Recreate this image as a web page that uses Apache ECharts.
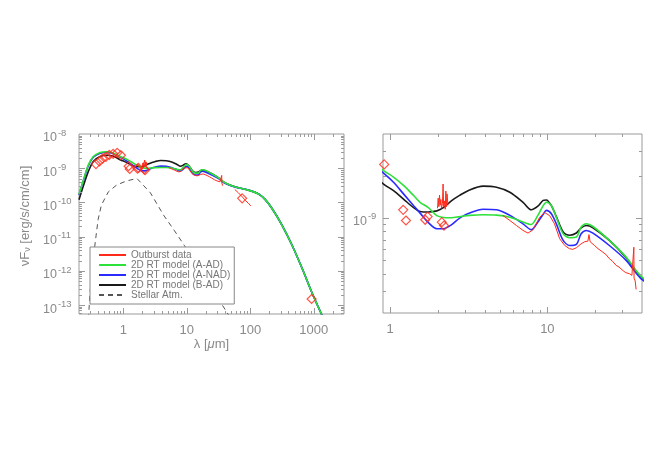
<!DOCTYPE html>
<html>
<head>
<meta charset="utf-8">
<script src="https://cdn.jsdelivr.net/npm/echarts@6/dist/echarts.min.js"></script>
<style>
html, body { margin: 0; padding: 0; background: #fff; }
#sed { width: 661px; height: 449px; }
</style>
</head>
<body>
<div id="sed"></div>
<script>
// wavelength grid of the RT models [micron]
const lamModel = [0.2, 0.234, 0.28, 0.336, 0.43, 0.55, 0.70, 0.907, 1.05, 1.215, 1.41, 1.55, 1.75, 1.98, 2.18, 2.45,
  2.78, 3.2, 3.9, 4.75, 5.77, 7.0, 7.9, 8.7, 9.4, 9.86, 10.6, 11.4, 12.6, 13.9, 15.3, 16.4, 17.7, 19.5, 24.8,
  31.7, 39.5, 57, 93, 134, 171, 219, 316, 456, 658, 950, 1322, 1400]
// nuFnu [erg/s/cm/cm]
const modelAAD = [1.74e-10, 4.47e-10, 1.23e-9, 2.19e-9, 2.88e-9, 3.02e-9, 2.75e-9, 2.17e-9, 1.95e-9, 1.70e-9, 1.44e-9,
  1.29e-9, 1.18e-9, 1.035e-9, 1.005e-9, 1.0e-9, 1.02e-9, 1.04e-9, 1.05e-9, 1.045e-9, 1.01e-9, 9.33e-10, 8.97e-10,
  1.04e-9, 1.22e-9, 1.29e-9, 1.22e-9, 1.01e-9, 7.69e-10, 7.21e-10, 7.29e-10, 8.59e-10, 9.06e-10, 8.67e-10, 6.90e-10,
  5.25e-10, 3.83e-10, 2.88e-10, 2.29e-10, 1.78e-10, 1.23e-10, 6.76e-11, 2.19e-11, 5.62e-12, 1.17e-12, 2.19e-13,
  5.50e-14, 4.37e-14]
const modelANAD = [1.66e-10, 4.27e-10, 1.17e-9, 2.09e-9, 2.75e-9, 2.88e-9, 2.63e-9, 2.08e-9, 1.79e-9, 1.48e-9, 1.22e-9,
  1.08e-9, 9.23e-10, 8.36e-10, 8.36e-10, 8.91e-10, 1.0e-9, 1.08e-9, 1.15e-9, 1.14e-9, 1.04e-9, 9.06e-10, 8.22e-10,
  9.33e-10, 1.06e-9, 1.13e-9, 1.07e-9, 9.06e-10, 6.90e-10, 6.35e-10, 6.46e-10, 7.69e-10, 8.13e-10, 7.78e-10, 6.35e-10,
  4.98e-10, 3.68e-10, 2.85e-10, 2.32e-10, 1.80e-10, 1.23e-10, 6.76e-11, 2.19e-11, 5.62e-12, 1.17e-12, 2.19e-13,
  5.50e-14, 4.37e-14]
const modelBAD = [1.20e-10, 3.02e-10, 7.94e-10, 1.58e-9, 2.19e-9, 2.40e-9, 2.24e-9, 1.74e-9, 1.56e-9, 1.36e-9, 1.18e-9,
  1.11e-9, 1.10e-9, 1.12e-9, 1.18e-9, 1.32e-9, 1.45e-9, 1.58e-9, 1.68e-9, 1.65e-9, 1.52e-9, 1.29e-9, 1.14e-9,
  1.21e-9, 1.33e-9, 1.34e-9, 1.22e-9, 1.02e-9, 7.94e-10, 7.52e-10, 7.80e-10, 8.47e-10, 8.81e-10, 8.49e-10, 6.90e-10,
  5.20e-10, 3.78e-10, 2.88e-10, 2.29e-10, 1.78e-10, 1.23e-10, 6.76e-11, 2.19e-11, 5.62e-12, 1.17e-12, 2.19e-13,
  5.50e-14, 4.37e-14]

// stellar atmosphere
const lamStar = [0.283, 0.29, 0.30, 0.32, 0.353, 0.40, 0.45, 0.58, 0.785, 1.13, 1.64, 2.67, 4.3, 6.3, 9.1, 43.5, 50]
const fStar = [3.98e-14, 1.0e-13, 2.51e-13, 1.0e-12, 5.01e-12, 3.16e-11, 8.32e-11, 2.04e-10, 3.24e-10, 4.27e-10,
  5.01e-10, 1.91e-10, 4.27e-11, 1.55e-11, 5.62e-12, 5.89e-14, 3.89e-14]

// outburst spectra (three pieces)
const lamSpecK = [2.00, 2.02, 2.04, 2.06, 2.08, 2.10, 2.12, 2.15, 2.17, 2.19, 2.21, 2.24, 2.26, 2.28, 2.30, 2.33]
const fSpecK = [1.17e-9, 1.38e-9, 1.20e-9, 1.45e-9, 1.23e-9, 1.35e-9, 1.17e-9, 1.26e-9, 1.74e-9, 1.20e-9, 1.32e-9,
  1.15e-9, 1.55e-9, 1.20e-9, 1.48e-9, 1.23e-9]
const lamSpecIR = [5.2, 5.77, 6.36, 7.0, 7.53, 8.1, 8.94, 9.6, 10.35, 11.1, 11.97, 12.9, 13.8, 14.5, 15.3, 16.4, 17.3,
  18.1, 18.4, 18.7, 19.95, 21.0, 22.5, 23.5, 24.8, 26.0, 27.4, 28.5, 30.2, 31.5, 33.3, 34.5, 35.4, 35.5, 35.6, 36.2, 36.7]
const fSpecIR = [1.04e-9, 9.57e-10, 8.81e-10, 8.13e-10, 7.78e-10, 8.22e-10, 1.01e-9, 1.09e-9, 1.035e-9, 9.06e-10,
  7.10e-10, 6.35e-10, 6.03e-10, 5.96e-10, 6.12e-10, 6.53e-10, 6.76e-10, 6.82e-10, 7.59e-10, 6.76e-10, 6.35e-10,
  6.03e-10, 5.70e-10, 5.50e-10, 5.12e-10, 4.90e-10, 4.58e-10, 4.47e-10, 4.22e-10, 4.07e-10, 4.00e-10, 3.89e-10,
  3.80e-10, 6.17e-10, 3.72e-10, 3.55e-10, 3.09e-10]
const lamSpecFIR = [57, 65, 75, 85, 95, 102]
const fSpecFIR = [2.40e-10, 1.91e-10, 1.45e-10, 1.12e-10, 9.12e-11, 7.94e-11]

// photometry
const lamPhot = [0.37, 0.42, 0.47, 0.53, 0.60, 0.69, 0.80, 0.916, 1.21, 1.26, 1.67, 1.73, 2.13, 2.20, 74.5, 926]
const fPhot = [1.32e-9, 1.58e-9, 1.91e-9, 2.14e-9, 2.45e-9, 2.63e-9, 2.82e-9, 2.40e-9, 1.14e-9, 9.57e-10, 9.68e-10,
  1.02e-9, 9.31e-10, 8.81e-10, 1.32e-10, 1.51e-13]

const legendNames = ['Outburst data', '2D RT model (A-AD)', '2D RT model (A-NAD)', '2D RT model (B-AD)', 'Stellar Atm.']

// axis ranges
const xRangeL = [0.2, 3000], yRangeL = [5.5e-14, 1e-8]
const xRangeR = [0.9, 40], yRangeR = [2.1e-10, 3.95e-9]

const gray = '#8a8a8a'
const axisGray = '#9a9a9a'
const font = 'Liberation Sans'
const cRed = '#ff2a1a', cGreen = '#2ee03a', cBlue = '#2a2aff', cBlack = '#1a1a1a'

function pairs(xs, ys) { return xs.map((x, i) => [x, ys[i]]) }

// 1..9 x 10^k strictly inside the range, flag = 1 for decades
function logTicks(lo, hi) {
  const out = []
  for (let k = Math.floor(Math.log10(lo)); k <= Math.ceil(Math.log10(hi)); k++) {
    for (let m = 1; m <= 9; m++) {
      const v = parseFloat((m * Math.pow(10, k)).toPrecision(3))
      if (v > lo * 1.0001 && v < hi * 0.9999) out.push([v, m === 1 ? 1 : 0])
    }
  }
  return out
}

function tickSeries(idx, dir, ticks, ref) {
  return {
    type: 'custom', xAxisIndex: idx, yAxisIndex: idx, silent: true, z: 6,
    data: ticks.map(t => dir === 'x' ? [t[0], ref, t[1]] : [ref, t[0], t[1]]),
    renderItem: function (params, api) {
      const cs = params.coordSys
      const len = api.value(2) ? 6 : 3
      const p = api.coord([api.value(0), api.value(1)])
      const st = { stroke: axisGray, lineWidth: 1 }
      if (dir === 'x') {
        const x = Math.round(p[0]) + 0.5
        const b = cs.y + cs.height
        return { type: 'group', children: [
          { type: 'line', shape: { x1: x, y1: b, x2: x, y2: b - len }, style: st },
          { type: 'line', shape: { x1: x, y1: cs.y, x2: x, y2: cs.y + len }, style: st }
        ] }
      }
      const y = Math.round(p[1]) + 0.5
      const r = cs.x + cs.width
      return { type: 'group', children: [
        { type: 'line', shape: { x1: cs.x, y1: y, x2: cs.x + len, y2: y }, style: st },
        { type: 'line', shape: { x1: r, y1: y, x2: r - len, y2: y }, style: st }
      ] }
    }
  }
}

function isDecade(v) {
  const e = Math.log10(v)
  return Math.abs(e - Math.round(e)) < 1e-6
}

function xAxisOf(idx, range, withName) {
  const ax = {
    type: 'log', gridIndex: idx, min: range[0], max: range[1],
    axisLine: { show: false }, axisTick: { show: false }, splitLine: { show: false },
    axisLabel: {
      margin: 10, color: gray, fontSize: 13, fontFamily: font,
      formatter: v => isDecade(v) ? String(Math.round(v)) : ''
    }
  }
  if (withName) {
    ax.name = 'λ [{i|μ}m]'
    ax.nameLocation = 'middle'
    ax.nameGap = 22
    ax.nameTextStyle = { color: gray, fontSize: 13, fontFamily: font, rich: { i: { color: gray, fontSize: 13, fontFamily: font, fontStyle: 'italic' } } }
  }
  return ax
}

function yAxisOf(idx, range, margin) {
  return {
    type: 'log', gridIndex: idx, min: range[0], max: range[1],
    axisLine: { show: false }, axisTick: { show: false }, splitLine: { show: false },
    axisLabel: {
      margin: margin, align: 'left', color: gray,
      formatter: v => isDecade(v) ? '{b|10}{s|-' + Math.abs(Math.round(Math.log10(v))) + '}' : '',
      rich: {
        b: { fontSize: 12.5, color: gray, fontFamily: font, padding: [8, 0, 0, 0] },
        s: { fontSize: 9.5, color: gray, fontFamily: font, padding: [0, 0, 2, 1] }
      }
    }
  }
}

function modelSeries(idx, name, color, data) {
  return { type: 'line', name: name, xAxisIndex: idx, yAxisIndex: idx, data: data, symbol: 'none',
    smooth: 0.3, lineStyle: { color: color, width: 1.6 }, itemStyle: { color: color }, z: 2 }
}

function specSeries(idx, data) {
  return { type: 'line', name: 'Outburst data', xAxisIndex: idx, yAxisIndex: idx, data: data, symbol: 'none',
    lineStyle: { color: cRed, width: 1 }, itemStyle: { color: cRed }, z: 3 }
}

function photSeries(idx) {
  return { type: 'scatter', name: 'photometry', xAxisIndex: idx, yAxisIndex: idx, data: pairs(lamPhot, fPhot),
    symbol: 'diamond', symbolSize: 9, itemStyle: { color: 'transparent', borderColor: cRed, borderWidth: 1.2 }, z: 4 }
}

const chart = echarts.init(document.getElementById('sed'))
const option = {
  animation: false,
  backgroundColor: '#fff',
  grid: [
    { left: 79, top: 134, width: 265, height: 180, show: true, borderColor: axisGray, borderWidth: 1 },
    { left: 383, top: 134, width: 259, height: 179, show: true, borderColor: axisGray, borderWidth: 1 }
  ],
  xAxis: [xAxisOf(0, xRangeL, true), xAxisOf(1, xRangeR, false)],
  yAxis: [yAxisOf(0, yRangeL, 36), yAxisOf(1, yRangeR, 30)],
  legend: {
    data: legendNames, orient: 'vertical', left: 90, top: 247,
    padding: [3, 4, 4, 8], itemGap: 0, itemWidth: 27, itemHeight: 7,
    backgroundColor: '#fff', borderColor: '#888', borderWidth: 1,
    selectedMode: false,
    itemStyle: { color: 'transparent', borderWidth: 0, opacity: 0 },
    textStyle: { color: '#777', fontSize: 10, fontFamily: font, lineHeight: 9.4, height: 9.4 }
  },
  graphic: [{
    type: 'text', x: 25, y: 216, rotation: Math.PI / 2,
    style: {
      text: '{n|νF}{u|ν}{n| [erg/s/cm/cm]}', align: 'center', verticalAlign: 'middle',
      rich: {
        n: { fontSize: 13, fill: gray, fontFamily: font },
        u: { fontSize: 9, fill: gray, fontFamily: font, padding: [6, 0, 0, 0] }
      }
    }
  }],
  series: [
    modelSeries(0, '2D RT model (B-AD)', cBlack, pairs(lamModel, modelBAD)),
    modelSeries(0, '2D RT model (A-NAD)', cBlue, pairs(lamModel, modelANAD)),
    modelSeries(0, '2D RT model (A-AD)', cGreen, pairs(lamModel, modelAAD)),
    { type: 'line', name: 'Stellar Atm.', xAxisIndex: 0, yAxisIndex: 0, data: pairs(lamStar, fStar), symbol: 'none',
      lineStyle: { color: '#555', width: 1, type: [5, 4] }, itemStyle: { color: '#555' }, z: 1 },
    specSeries(0, pairs(lamSpecK, fSpecK)),
    specSeries(0, pairs(lamSpecIR, fSpecIR)),
    specSeries(0, pairs(lamSpecFIR, fSpecFIR)),
    photSeries(0),
    modelSeries(1, '2D RT model (B-AD)', cBlack, pairs(lamModel, modelBAD)),
    modelSeries(1, '2D RT model (A-NAD)', cBlue, pairs(lamModel, modelANAD)),
    modelSeries(1, '2D RT model (A-AD)', cGreen, pairs(lamModel, modelAAD)),
    specSeries(1, pairs(lamSpecK, fSpecK)),
    specSeries(1, pairs(lamSpecIR, fSpecIR)),
    photSeries(1),
    tickSeries(0, 'x', logTicks(xRangeL[0], xRangeL[1]), yRangeL[0]),
    tickSeries(0, 'y', logTicks(yRangeL[0], yRangeL[1]), xRangeL[0]),
    tickSeries(1, 'x', logTicks(xRangeR[0], xRangeR[1]), yRangeR[0]),
    tickSeries(1, 'y', logTicks(yRangeR[0], yRangeR[1]), xRangeR[0])
  ]
}
chart.setOption(option)
window.addEventListener('resize', () => chart.resize())
</script>
</body>
</html>
